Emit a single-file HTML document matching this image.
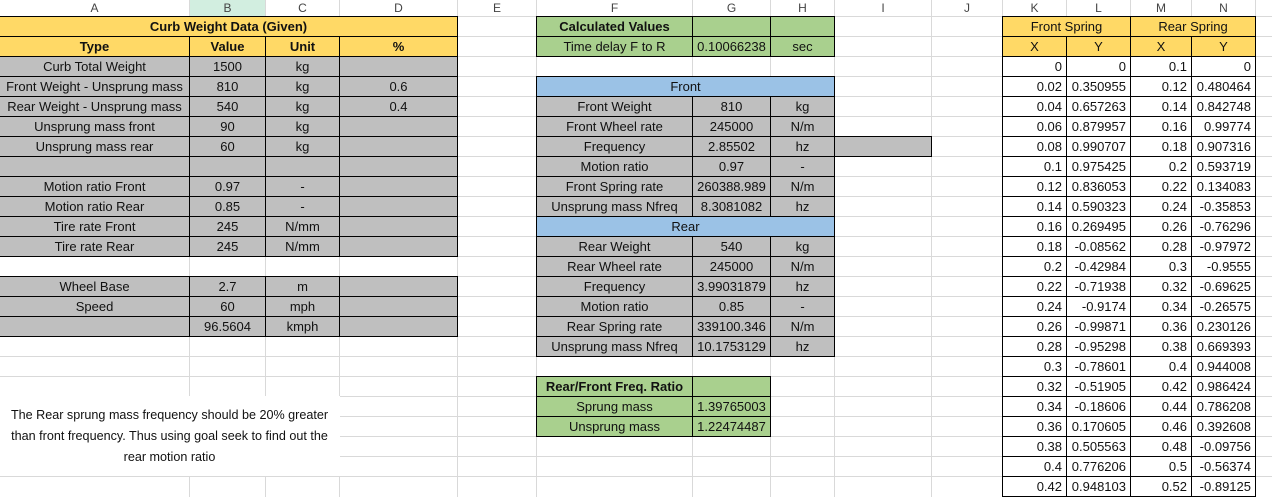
<!DOCTYPE html>
<html><head><meta charset="utf-8"><style>
body{margin:0;width:1272px;height:497px;overflow:hidden;background:#fff;font-family:"Liberation Sans",sans-serif;font-size:13px;color:#111;position:relative}
.c{position:absolute;box-sizing:border-box;display:flex;align-items:center;justify-content:center;white-space:nowrap;overflow:visible}
.g{position:absolute;background:#d9d9d9}
</style></head><body>
<script>
const colX=[0,190,266,340,458,537,693,771,835,932,1003,1067,1131,1192,1256,1272];
const colNames=["A","B","C","D","E","F","G","H","I","J","K","L","M","N",""];
const frontX=["0","0.02","0.04","0.06","0.08","0.1","0.12","0.14","0.16","0.18","0.2","0.22","0.24","0.26","0.28","0.3","0.32","0.34","0.36","0.38","0.4","0.42"];
const frontY=["0","0.350955","0.657263","0.879957","0.990707","0.975425","0.836053","0.590323","0.269495","-0.08562","-0.42984","-0.71938","-0.9174","-0.99871","-0.95298","-0.78601","-0.51905","-0.18606","0.170605","0.505563","0.776206","0.948103"];
const rearX=["0.1","0.12","0.14","0.16","0.18","0.2","0.22","0.24","0.26","0.28","0.3","0.32","0.34","0.36","0.38","0.4","0.42","0.44","0.46","0.48","0.5","0.52"];
const rearY=["0","0.480464","0.842748","0.99774","0.907316","0.593719","0.134083","-0.35853","-0.76296","-0.97972","-0.9555","-0.69625","-0.26575","0.230126","0.669393","0.944008","0.986424","0.786208","0.392608","-0.09756","-0.56374","-0.89125"];
const Y=["#ffd966"],GR="#bfbfbf",GN="#a9d08e",BL="#9bc2e6";
const rowTop=r=>17+20*(r-1);
const B=document.body;
for(let r=1;r<=24;r++){const d=document.createElement('div');d.className='g';d.style.cssText=`left:0;top:${rowTop(r)-1}px;width:1272px;height:1px`;


B.appendChild(d);}
for(let i=1;i<colX.length-1;i++){const d=document.createElement('div');d.className='g';d.style.cssText=`left:${colX[i]-1}px;top:0;width:1px;height:497px`;


B.appendChild(d);}
for(let i=0;i<14;i++){const d=document.createElement('div');d.className='c';d.style.cssText=`left:${colX[i]}px;top:0;width:${colX[i+1]-colX[i]-1}px;height:16px;color:#444;font-size:12px;background:${i==1?'#d2eee0':'#fff'}`;d.textContent=colNames[i];


B.appendChild(d);}
function cell(c1,c2,r,text,bg,opt){opt=opt||{};const d=document.createElement('div');d.className='c';
const x=colX[c1],w=colX[c2+1]-x,t=rowTop(r);
d.style.cssText=`left:${x-1}px;top:${t-1}px;width:${w+1}px;height:${(opt.h||20)+1}px;background:${bg||'transparent'};${bg&&!opt.nob?'border:1px solid #000;':''}${opt.bold?'font-weight:bold;':''}${opt.right?'justify-content:flex-end;padding-right:4px;':''}${opt.wrap?'white-space:normal;text-align:center;line-height:21px;padding:0 1px;font-size:12.6px;':''}`;
d.textContent=text;


B.appendChild(d);return d;}
cell(0,3,1,"Curb Weight Data (Given)",Y,{bold:1,name:'curb-weight-title'});
["Type","Value","Unit","%"].forEach((t,i)=>cell(i,i,2,t,Y,{bold:1,name:'header-'+t.toLowerCase()}));
const leftRows=[[3,"Curb Total Weight","1500","kg",""],[4,"Front Weight - Unsprung mass","810","kg","0.6"],[5,"Rear Weight - Unsprung mass","540","kg","0.4"],[6,"Unsprung mass front","90","kg",""],[7,"Unsprung mass rear","60","kg",""],[8,"","","",""],[9,"Motion ratio Front","0.97","-",""],[10,"Motion ratio Rear","0.85","-",""],[11,"Tire rate Front","245","N/mm",""],[12,"Tire rate Rear","245","N/mm",""],[14,"Wheel Base","2.7","m",""],[15,"Speed","60","mph",""],[16,"","96.5604","kmph",""]];
leftRows.forEach(r=>{for(let i=0;i<4;i++)cell(i,i,r[0],r[i+1],GR,{name:'input-cell'});});
cell(0,2,20,"The Rear sprung mass frequency should be 20% greater than front frequency. Thus using goal seek to find out the rear motion ratio","#fff",{nob:1,wrap:1,h:79,name:'goal-seek-note'});
cell(5,5,1,"Calculated Values",GN,{bold:1,name:'calculated-values-title'});cell(6,6,1,"",GN);cell(7,7,1,"",GN);
cell(5,5,2,"Time delay F to R",GN);cell(6,6,2,"0.10066238",GN);cell(7,7,2,"sec",GN);
cell(5,7,4,"Front",BL,{name:'front-section-header'});
const fr=[[5,"Front Weight","810","kg"],[6,"Front Wheel rate","245000","N/m"],[7,"Frequency","2.85502","hz"],[8,"Motion ratio","0.97","-"],[9,"Front Spring rate","260388.989","N/m"],[10,"Unsprung mass Nfreq","8.3081082","hz"]];
fr.forEach(r=>{for(let i=0;i<3;i++)cell(5+i,5+i,r[0],r[i+1],GR,{name:'front-calc-cell'});});
cell(8,8,7,"",GR,{name:'highlight-cell'});
cell(5,7,11,"Rear",BL,{name:'rear-section-header'});
const rr=[[12,"Rear Weight","540","kg"],[13,"Rear Wheel rate","245000","N/m"],[14,"Frequency","3.99031879","hz"],[15,"Motion ratio","0.85","-"],[16,"Rear Spring rate","339100.346","N/m"],[17,"Unsprung mass Nfreq","10.1753129","hz"]];
rr.forEach(r=>{for(let i=0;i<3;i++)cell(5+i,5+i,r[0],r[i+1],GR,{name:'rear-calc-cell'});});
cell(5,5,19,"Rear/Front Freq. Ratio",GN,{bold:1,name:'freq-ratio-title'});cell(6,6,19,"",GN);
cell(5,5,20,"Sprung mass",GN);cell(6,6,20,"1.39765003",GN,{name:'sprung-ratio'});
cell(5,5,21,"Unsprung mass",GN);cell(6,6,21,"1.22474487",GN,{name:'unsprung-ratio'});
cell(10,11,1,"Front Spring",Y,{name:'front-spring-header'});cell(12,13,1,"Rear Spring",Y,{name:'rear-spring-header'});
["X","Y","X","Y"].forEach((t,i)=>cell(10+i,10+i,2,t,Y,{name:'axis-header'}));
for(let k=0;k<frontX.length;k++){
cell(10,10,3+k,frontX[k],"#fff",{right:1,name:'front-x'});
cell(11,11,3+k,frontY[k],"#fff",{right:1,name:'front-y'});
cell(12,12,3+k,rearX[k],"#fff",{right:1,name:'rear-x'});
cell(13,13,3+k,rearY[k],"#fff",{right:1,name:'rear-y'});}
</script>
</body></html>
